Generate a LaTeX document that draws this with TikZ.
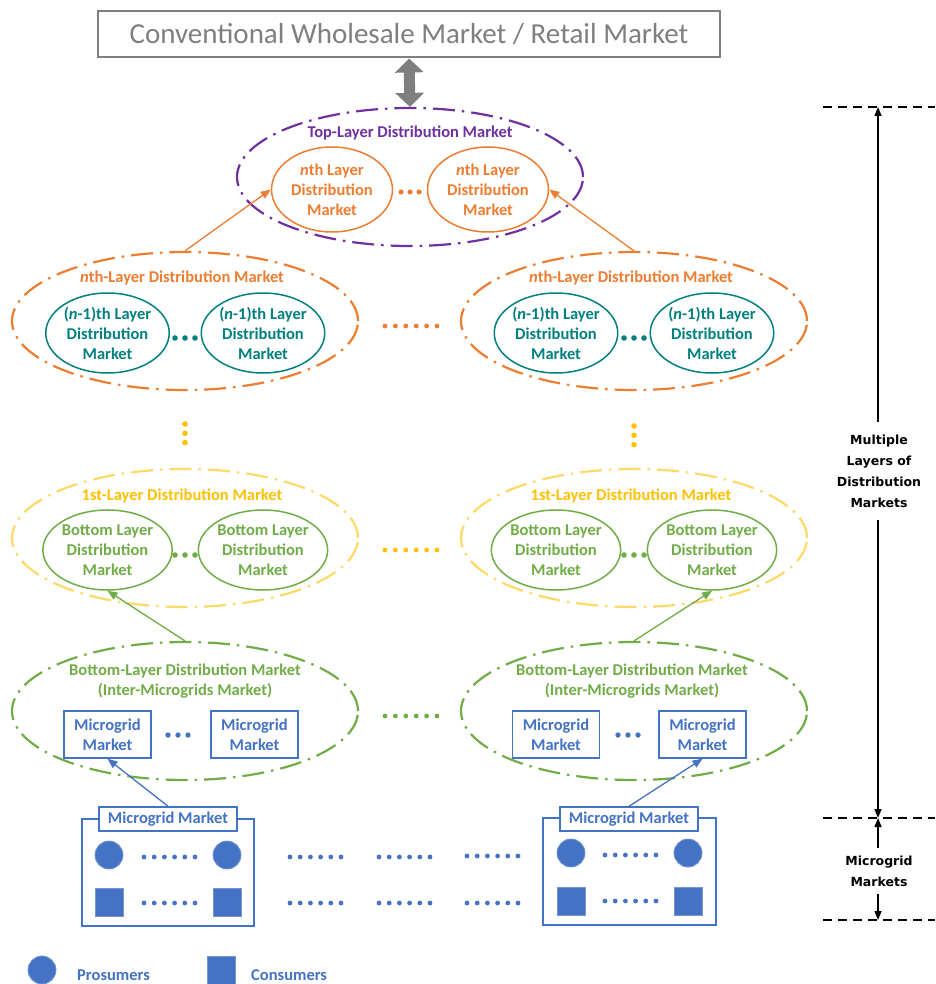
\documentclass[tikz,border=0pt]{standalone}
\usepackage{fontspec}
\setmainfont{Carlito}
\newfontfamily\annofont{DejaVu Sans}
\usetikzlibrary{shapes.geometric,arrows.meta}
\definecolor{cpurple}{HTML}{7030A0}
\definecolor{corange}{HTML}{ED7D31}
\definecolor{cteal}{HTML}{00807F}
\definecolor{cyel}{HTML}{FFC000}
\definecolor{cyelL}{HTML}{FFD966}
\definecolor{cgreen}{HTML}{70AD47}
\definecolor{cblue}{HTML}{4472C4}
\definecolor{cgray}{HTML}{7F7F7F}
\begin{document}
\begin{tikzpicture}[x=1pt,y=-1pt,
  txt/.style={font=\fontsize{16.5}{20}\selectfont\bfseries, align=center, inner sep=0pt},
  outer/.style={ellipse, draw, line width=2.2pt, dash pattern=on 22pt off 7pt on 2.5pt off 7pt, minimum width=346pt, minimum height=138pt, inner sep=0pt},
  innerell/.style={txt, ellipse, draw, line width=1.5pt, minimum width=121pt, minimum height=80pt, inner sep=0pt},
  mbox/.style={txt, draw=cblue, text=cblue, line width=1.5pt, minimum width=87pt, minimum height=47pt},
  gridbox/.style={draw=cblue, line width=1.5pt, minimum width=172pt, minimum height=107pt},
  gridlab/.style={txt, draw=cblue, text=cblue, fill=white, line width=1.5pt, minimum width=138pt, minimum height=24pt},
  pros/.style={circle, fill=cblue, draw=cblue!75!white, line width=0.8pt, minimum size=28pt, inner sep=0pt},
  cons/.style={rectangle, fill=cblue, draw=cblue!75!white, line width=0.8pt, minimum size=28pt, inner sep=0pt},
  conn/.style={line width=1.3pt, -{Triangle[length=10pt,width=8pt]}},
  karrow/.style={black, line width=1.5pt, -{Triangle[length=9pt,width=7pt]}},
  anno/.style={font=\annofont\fontsize{12.5}{21}\selectfont\bfseries, align=center, inner xsep=0pt},
  bound/.style={black, line width=1.3pt, dash pattern=on 9pt off 6pt}
]
\useasboundingbox (0,0) rectangle (935,984);
\fill[white] (0,0) rectangle (935,984);

% top market
\node[draw=cgray, line width=2pt, minimum width=622pt, minimum height=46pt, text=cgray,
      font=\fontsize{29}{32}\selectfont] (wm) at (409,34.5) {Conventional Wholesale Market / Retail Market};

% top layer
\node[outer, draw=cpurple] (top) at (410,177) {};
\draw[cgray, line width=11pt, {Triangle[width=28pt,length=14pt]}-{Triangle[width=28pt,length=14pt]}] (wm.south) -- (top.north);
\node[txt, text=cpurple] (toplab) at (410,133) {Top-Layer Distribution Market};
\node[innerell, draw=corange, text=corange, minimum height=85pt] (oL) at (332,189.5) {\textit{n}th Layer\\Distribution\\Market};
\node[innerell, draw=corange, text=corange, minimum height=85pt] (oR) at (488,189.5) {\textit{n}th Layer\\Distribution\\Market};
\foreach \i in {0,1,2} \fill[corange] (401+\i*9,192) circle (2.6);

% nth layer
\node[outer, draw=corange] (nL) at (185,321) {};
\node[outer, draw=corange] (nR) at (634,321) {};
\node[txt, text=corange] (nLlab) at (182,278) {\textit{n}th-Layer Distribution Market};
\node[txt, text=corange] (nRlab) at (631,278) {\textit{n}th-Layer Distribution Market};
\node[innerell, draw=cteal, text=cteal] (tL1) at (107.5,333) {(\textit{n}-1)th Layer\\Distribution\\Market};
\node[innerell, draw=cteal, text=cteal] (tL2) at (263,333) {(\textit{n}-1)th Layer\\Distribution\\Market};
\node[innerell, draw=cteal, text=cteal] (tR1) at (556,333) {(\textit{n}-1)th Layer\\Distribution\\Market};
\node[innerell, draw=cteal, text=cteal] (tR2) at (712,333) {(\textit{n}-1)th Layer\\Distribution\\Market};
\foreach \i in {0,1,2} {\fill[cteal] (175+\i*10,338) circle (2.8); \fill[cteal] (624+\i*10,338) circle (2.8);}
\foreach \i in {0,...,5} \fill[corange] (385+\i*10.4,326) circle (2.4);
\draw[conn, corange] (nL.north) -- (oL.west);
\draw[conn, corange] (nR.north) -- (oR.east);

% vertical dots
\foreach \i in {0,1,2} {\fill[cyel] (185,424+\i*9.3) circle (2.8); \fill[cyel] (634,426+\i*9.3) circle (2.8);}

% 1st layer
\node[outer, draw=cyelL] (fL) at (185,538) {};
\node[outer, draw=cyelL] (fR) at (634,538) {};
\node[txt, text=cyel] (fLlab) at (182,496) {1st-Layer Distribution Market};
\node[txt, text=cyel] (fRlab) at (631,496) {1st-Layer Distribution Market};
\node[innerell, draw=cgreen, text=cgreen] (gL1) at (107.5,550) {Bottom Layer\\Distribution\\Market};
\node[innerell, draw=cgreen, text=cgreen] (gL2) at (263,550) {Bottom Layer\\Distribution\\Market};
\node[innerell, draw=cgreen, text=cgreen] (gR1) at (556,550) {Bottom Layer\\Distribution\\Market};
\node[innerell, draw=cgreen, text=cgreen] (gR2) at (712,550) {Bottom Layer\\Distribution\\Market};
\foreach \i in {0,1,2} {\fill[cgreen] (175+\i*10,555) circle (2.8); \fill[cgreen] (624+\i*10,555) circle (2.8);}
\foreach \i in {0,...,5} \fill[cyel] (385+\i*10.4,550) circle (2.4);

% bottom layer
\node[outer, draw=cgreen] (bL) at (185,711) {};
\node[outer, draw=cgreen] (bR) at (634,711) {};
\node[txt, text=cgreen] (bLlab) at (185,681) {Bottom-Layer Distribution Market\\(Inter-Microgrids Market)};
\node[txt, text=cgreen] (bRlab) at (632,681) {Bottom-Layer Distribution Market\\(Inter-Microgrids Market)};
\node[mbox] (mL1) at (107.5,734.5) {Microgrid\\Market};
\node[mbox] (mL2) at (254.5,734.5) {Microgrid\\Market};
\node[mbox] (mR1) at (556,734.5) {Microgrid\\Market};
\node[mbox] (mR2) at (702.5,734.5) {Microgrid\\Market};
\foreach \i in {0,1,2} {\fill[cblue] (168+\i*10,735) circle (2.7); \fill[cblue] (618+\i*10,735) circle (2.7);}
\foreach \i in {0,...,5} \fill[cgreen] (385+\i*10.4,716) circle (2.4);
\draw[conn, cgreen] (bL.north) -- (gL1.south);
\draw[conn, cgreen] (bR.north) -- (gR2.south);

% microgrid markets
\node[gridbox] (gridL) at (168,872.5) {};
\node[gridbox, minimum width=173pt] (gridR) at (629.5,871.5) {};
\node[gridlab] (gridLlab) at (168,819) {Microgrid Market};
\node[gridlab] (gridRlab) at (629,819) {Microgrid Market};
\draw[conn, cblue] (gridLlab.north) -- (mL1.south);
\draw[conn, cblue] (gridRlab.north) -- (mR2.south);
\node[pros] (pL1) at (109,855) {};
\node[pros] (pL2) at (227,855) {};
\node[cons] (cL1) at (109,902) {};
\node[cons] (cL2) at (227,902) {};
\node[pros] (pR1) at (571,853) {};
\node[pros] (pR2) at (688,853) {};
\node[cons] (cR1) at (571,901) {};
\node[cons] (cR2) at (688,901) {};
\foreach \x/\ya/\yb in {144/857/903, 605/855/901, 290/857/903, 379/857/903, 467/856/903}
  \foreach \i in {0,...,5} {\fill[cblue] (\x+\i*10.2,\ya) circle (2.4); \fill[cblue] (\x+\i*10.2,\yb) circle (2.4);}

% legend
\node[pros] (legP) at (42,970) {};
\node[txt, text=cblue, anchor=west] (legPt) at (77,975) {Prosumers};
\node[cons] (legC) at (221.5,970) {};
\node[txt, text=cblue, anchor=west] (legCt) at (251,975) {Consumers};

% right annotation
\coordinate (d1) at (878,107);
\coordinate (d2) at (878,818);
\coordinate (d3) at (878,920);
\coordinate (e1) at (823,107); \coordinate (f1) at (935,107);
\coordinate (e2) at (823,818); \coordinate (f2) at (935,818);
\coordinate (e3) at (823,920); \coordinate (f3) at (935,920);
\draw[bound] (e1) -- (f1);
\draw[bound] (e2) -- (f2);
\draw[bound] (e3) -- (f3);
\node[anno, inner ysep=12pt] (multi) at (879,471) {Multiple\\Layers of\\Distribution\\Markets};
\node[anno, inner ysep=7pt] (mgm) at (879,871) {Microgrid\\Markets};
\draw[karrow] (multi.north -| d1) -- (d1);
\draw[karrow] (multi.south -| d1) -- (d2);
\draw[karrow] (mgm.north -| d1) -- (d2);
\draw[karrow] (mgm.south -| d1) -- (d3);
\end{tikzpicture}
\end{document}
